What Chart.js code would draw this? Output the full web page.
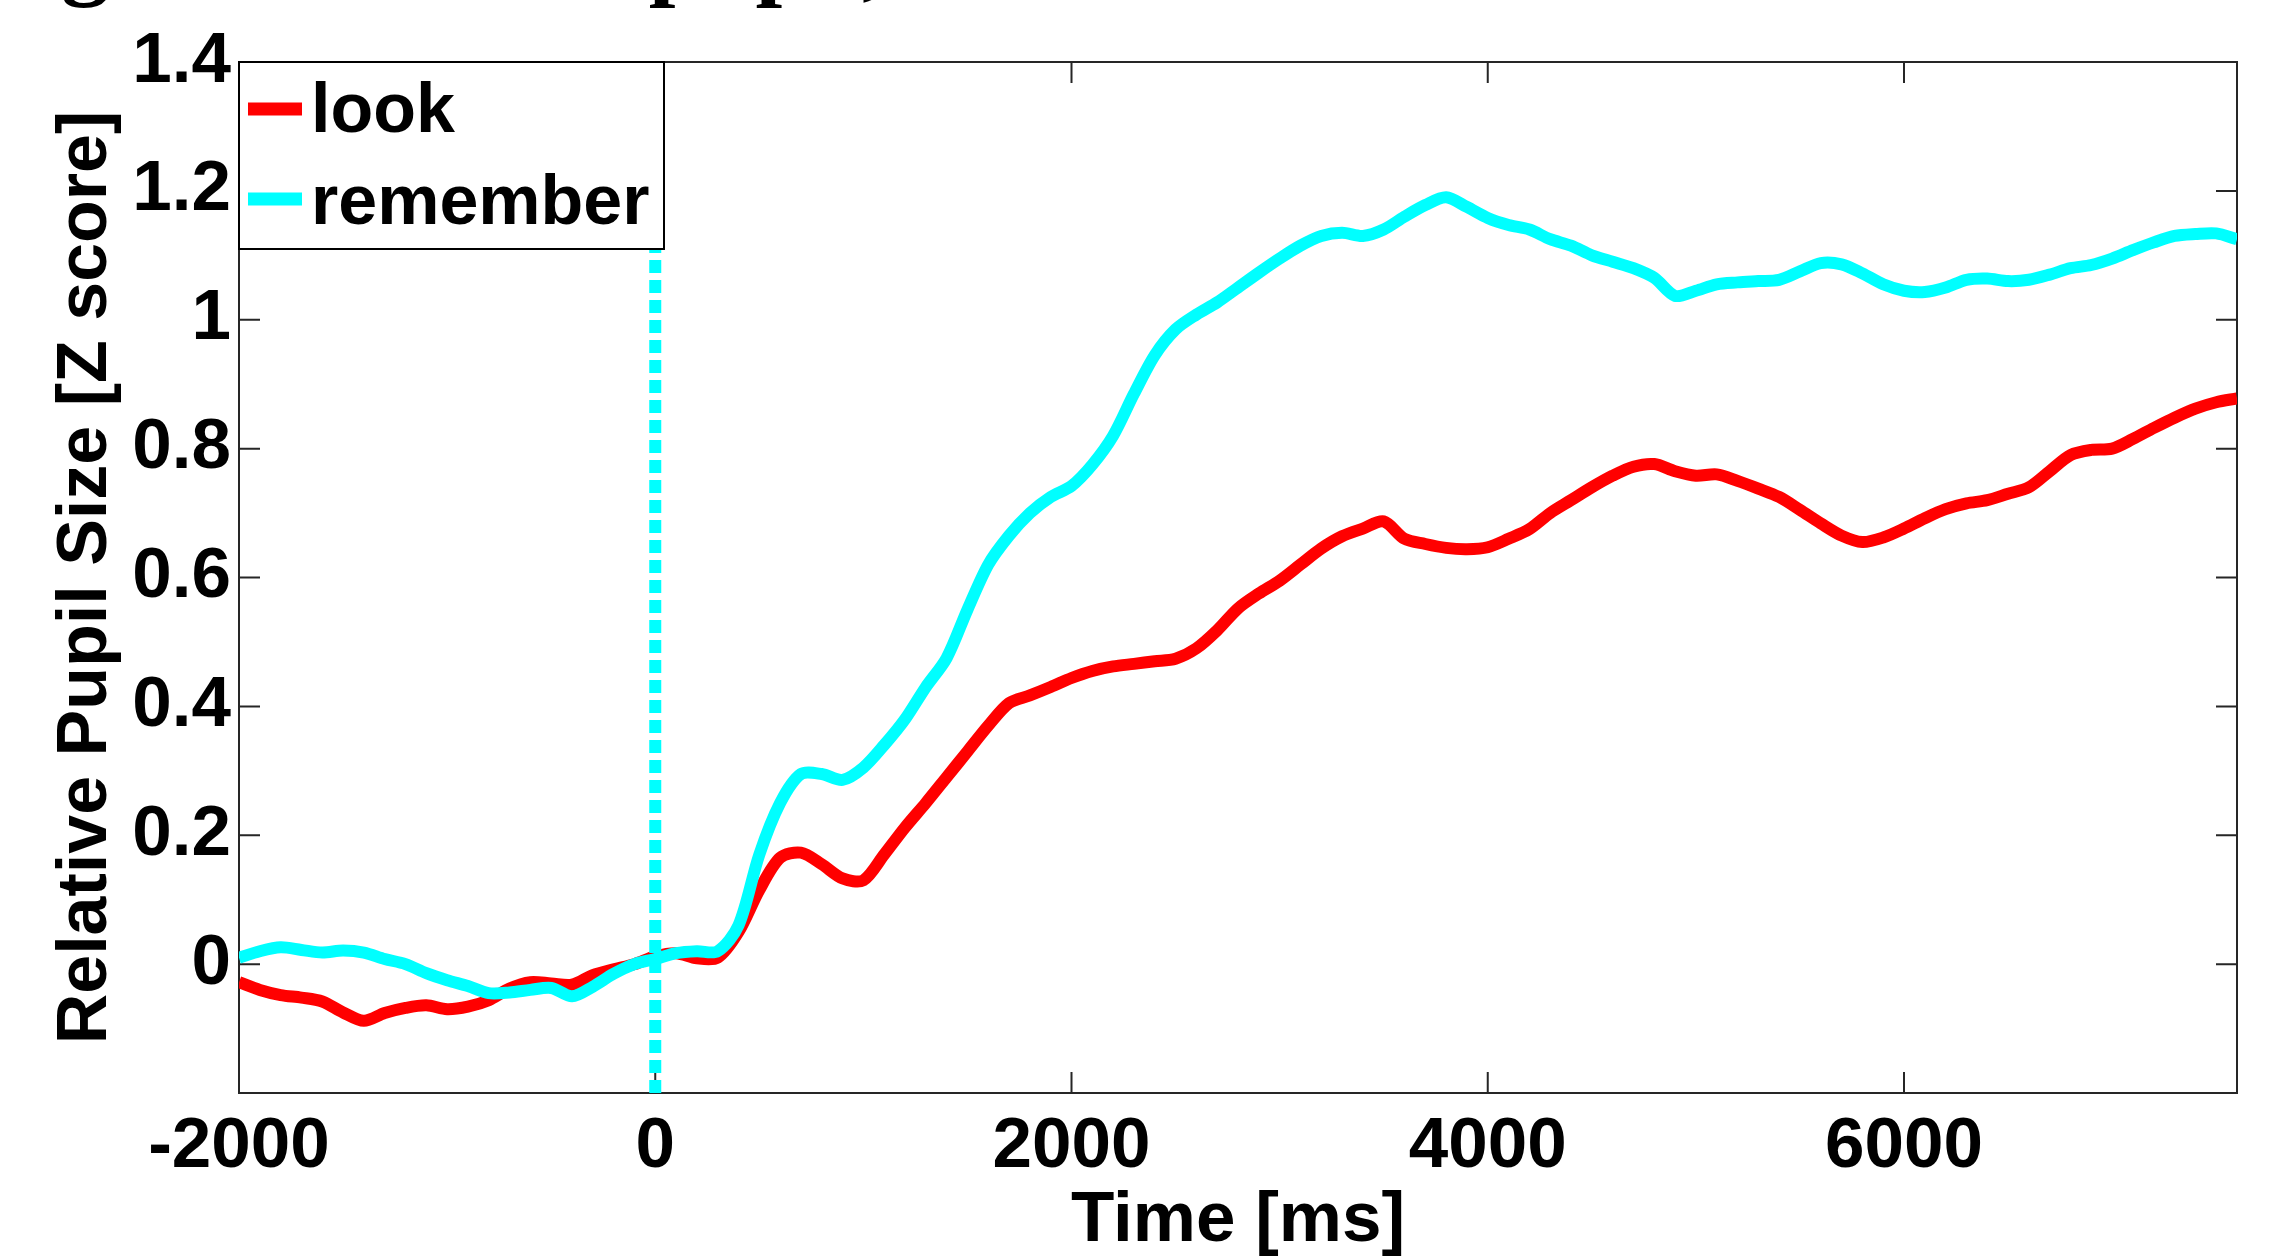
<!DOCTYPE html>
<html lang="en">
<head>
<meta charset="UTF-8">
<title>Relative Pupil Size</title>
<script src="https://cdn.jsdelivr.net/npm/chart.js"></script>
<style>
  html, body { margin: 0; padding: 0; background: #fff; overflow: hidden; }
  canvas { display: block; }
</style>
</head>
<body>
<canvas id="pupilChart" width="2269" height="1259"></canvas>
<script>
// time axis (ms), one sample every 100 ms
const timeMs = [
  -2000, -1900, -1800, -1700, -1600, -1500, -1400, -1300, -1200, -1100,
  -1000, -900, -800, -700, -600, -500, -400, -300, -200, -100,
  0, 100, 200, 300, 400, 500, 600, 700, 800, 900,
  1000, 1100, 1200, 1300, 1400, 1500, 1600, 1700, 1800, 1900,
  2000, 2100, 2200, 2300, 2400, 2500, 2600, 2700, 2800, 2900,
  3000, 3100, 3200, 3300, 3400, 3500, 3600, 3700, 3800, 3900,
  4000, 4100, 4200, 4300, 4400, 4500, 4600, 4700, 4800, 4900,
  5000, 5100, 5200, 5300, 5400, 5500, 5600, 5700, 5800, 5900,
  6000, 6100, 6200, 6300, 6400, 6500, 6600, 6700, 6800, 6900,
  7000, 7100, 7200, 7300, 7400, 7500, 7600
];

// relative pupil size (z score), "look" condition
const lookZ = [
  -0.028, -0.040, -0.048, -0.052, -0.058, -0.075, -0.088, -0.076, -0.068, -0.064,
  -0.070, -0.066, -0.056, -0.038, -0.028, -0.030, -0.032, -0.017, -0.008, 0.000,
  0.012, 0.017, 0.009, 0.010, 0.050, 0.115, 0.165, 0.173, 0.155, 0.133,
  0.130, 0.170, 0.212, 0.250, 0.290, 0.330, 0.370, 0.405, 0.417, 0.430,
  0.444, 0.455, 0.462, 0.466, 0.470, 0.474, 0.490, 0.518, 0.552, 0.575,
  0.595, 0.620, 0.645, 0.664, 0.676, 0.687, 0.660, 0.652, 0.646, 0.644,
  0.647, 0.660, 0.675, 0.700, 0.720, 0.740, 0.758, 0.772, 0.776, 0.765,
  0.758, 0.760, 0.750, 0.738, 0.725, 0.705, 0.684, 0.665, 0.655, 0.662,
  0.676, 0.692, 0.706, 0.715, 0.720, 0.730, 0.740, 0.765, 0.790, 0.798,
  0.800, 0.815, 0.832, 0.848, 0.862, 0.872, 0.878
];

// relative pupil size (z score), "remember" condition
const rememberZ = [
  0.010, 0.020, 0.026, 0.022, 0.018, 0.021, 0.018, 0.008, 0.000, -0.014,
  -0.025, -0.034, -0.045, -0.044, -0.040, -0.037, -0.050, -0.035, -0.015, 0.000,
  0.008, 0.017, 0.020, 0.020, 0.060, 0.170, 0.250, 0.295, 0.295, 0.286,
  0.305, 0.340, 0.380, 0.430, 0.475, 0.550, 0.620, 0.665, 0.700, 0.725,
  0.742, 0.775, 0.820, 0.885, 0.945, 0.985, 1.008, 1.027, 1.050, 1.073,
  1.095, 1.115, 1.130, 1.135, 1.130, 1.140, 1.160, 1.178, 1.190, 1.175,
  1.158, 1.147, 1.140, 1.125, 1.115, 1.100, 1.090, 1.080, 1.065, 1.037,
  1.045, 1.055, 1.058, 1.060, 1.062, 1.075, 1.088, 1.086, 1.072, 1.055,
  1.045, 1.043, 1.050, 1.062, 1.064, 1.060, 1.062, 1.070, 1.080, 1.085,
  1.095, 1.108, 1.120, 1.130, 1.133, 1.134, 1.125
];

// stimulus onset marker (dashed vertical line)
const onsetX = [0, 0];
const onsetY = [-0.2, 1.4];

const xTicks = [-2000, 0, 2000, 4000, 6000];
const xTickLabels = ['-2000', '0', '2000', '4000', '6000'];
const yTicks = [-0.2, 0, 0.2, 0.4, 0.6, 0.8, 1, 1.2, 1.4];
const yTickLabels = ['', '0', '0.2', '0.4', '0.6', '0.8', '1', '1.2', '1.4'];

// the figure caption above the plot is cut off, only its descenders show
const captionText = 'Figure 10 Mean pupil,';

const lookColor = '#ff0000';
const rememberColor = '#00ffff';
const fontFamily = "'Liberation Sans', Arial, Helvetica, sans-serif";
const axisFont = { family: fontFamily, weight: 'bold', size: 71 };

function toPoints(xs, ys) {
    return xs.map((x, i) => ({ x: x, y: ys[i] }));
}

// box around the axes with inward ticks on all four sides (matlab style)
const matlabFrame = {
    id: 'matlabFrame',
    beforeDatasetsDraw(chart) {
        const { ctx, chartArea: a, scales: { x, y } } = chart;
        const len = 21;
        ctx.save();
        ctx.strokeStyle = '#262626';
        ctx.lineWidth = 2;
        ctx.strokeRect(a.left, a.top, a.right - a.left, a.bottom - a.top);
        ctx.beginPath();
        x.ticks.forEach(t => {
            const px = x.getPixelForValue(t.value);
            ctx.moveTo(px, a.bottom); ctx.lineTo(px, a.bottom - len);
            ctx.moveTo(px, a.top); ctx.lineTo(px, a.top + len);
        });
        y.ticks.forEach(t => {
            const py = y.getPixelForValue(t.value);
            ctx.moveTo(a.left, py); ctx.lineTo(a.left + len, py);
            ctx.moveTo(a.right, py); ctx.lineTo(a.right - len, py);
        });
        ctx.stroke();
        ctx.restore();
    }
};

// legend box in the upper left corner of the plot, plus the clipped caption
const insetLegend = {
    id: 'insetLegend',
    afterDatasetsDraw(chart) {
        const { ctx, chartArea: a } = chart;
        const items = chart.data.datasets.filter(d => d.inLegend);
        ctx.save();
        ctx.fillStyle = '#fff';
        ctx.fillRect(a.left, a.top, 425, 187);
        ctx.strokeStyle = '#000';
        ctx.lineWidth = 2;
        ctx.strokeRect(a.left, a.top, 425, 187);
        ctx.font = 'bold 70px ' + fontFamily;
        ctx.textBaseline = 'alphabetic';
        items.forEach((d, i) => {
            const lineY = a.top + 47 + i * 90;
            ctx.strokeStyle = d.borderColor;
            ctx.lineWidth = 13;
            ctx.beginPath();
            ctx.moveTo(a.left + 9, lineY);
            ctx.lineTo(a.left + 63, lineY);
            ctx.stroke();
            ctx.fillStyle = '#000';
            ctx.fillText(d.label, a.left + 72, a.top + 70 + i * 92);
        });

        ctx.font = "bold 96px 'Liberation Serif', 'Times New Roman', serif";
        ctx.textAlign = 'left';
        ctx.fillText(captionText, -24, -12);
        ctx.restore();
    }
};

const ctx = document.getElementById('pupilChart').getContext('2d');
new Chart(ctx, {
    type: 'line',
    data: {
        datasets: [
            {
                label: 'look',
                inLegend: true,
                data: toPoints(timeMs, lookZ),
                borderColor: lookColor,
                borderWidth: 12,
                pointRadius: 0,
                tension: 0.3,
                order: 3
            },
            {
                label: 'remember',
                inLegend: true,
                data: toPoints(timeMs, rememberZ),
                borderColor: rememberColor,
                borderWidth: 12,
                pointRadius: 0,
                tension: 0.3,
                order: 2
            },
            {
                label: 'onset',
                inLegend: false,
                data: toPoints(onsetX, onsetY),
                borderColor: rememberColor,
                borderWidth: 12,
                borderDash: [13, 7],
                pointRadius: 0,
                order: 1
            }
        ]
    },
    options: {
        responsive: false,
        animation: false,
        devicePixelRatio: 1,
        layout: { padding: { top: 62, right: 32, left: 0, bottom: 0 } },
        plugins: {
            legend: { display: false },
            tooltip: { enabled: false }
        },
        scales: {
            x: {
                type: 'linear',
                min: -2000,
                max: 7600,
                afterBuildTicks: s => { s.ticks = xTicks.map(v => ({ value: v })); },
                afterFit: s => { s.height = 166; },
                grid: { display: false },
                border: { display: false },
                ticks: {
                    font: axisFont,
                    color: '#000',
                    padding: 4,
                    maxRotation: 0,
                    autoSkip: false,
                    callback: (v, i) => xTickLabels[i]
                },
                title: {
                    display: true,
                    text: 'Time [ms]',
                    font: { family: fontFamily, weight: 'bold', size: 71, lineHeight: 1 },
                    color: '#000',
                    padding: { top: 0, bottom: 2 }
                }
            },
            y: {
                type: 'linear',
                min: -0.2,
                max: 1.4,
                afterBuildTicks: s => { s.ticks = yTicks.map(v => ({ value: v })); },
                afterFit: s => { s.width = 239; },
                grid: { display: false },
                border: { display: false },
                ticks: {
                    font: axisFont,
                    color: '#000',
                    padding: 0,
                    autoSkip: false,
                    callback: (v, i) => yTickLabels[i]
                },
                title: {
                    display: true,
                    text: 'Relative Pupil Size [Z score]',
                    font: { family: fontFamily, weight: 'bold', size: 70 },
                    color: '#000',
                    padding: { top: 45, bottom: 0 }
                }
            }
        }
    },
    plugins: [matlabFrame, insetLegend]
});
</script>
</body>
</html>
